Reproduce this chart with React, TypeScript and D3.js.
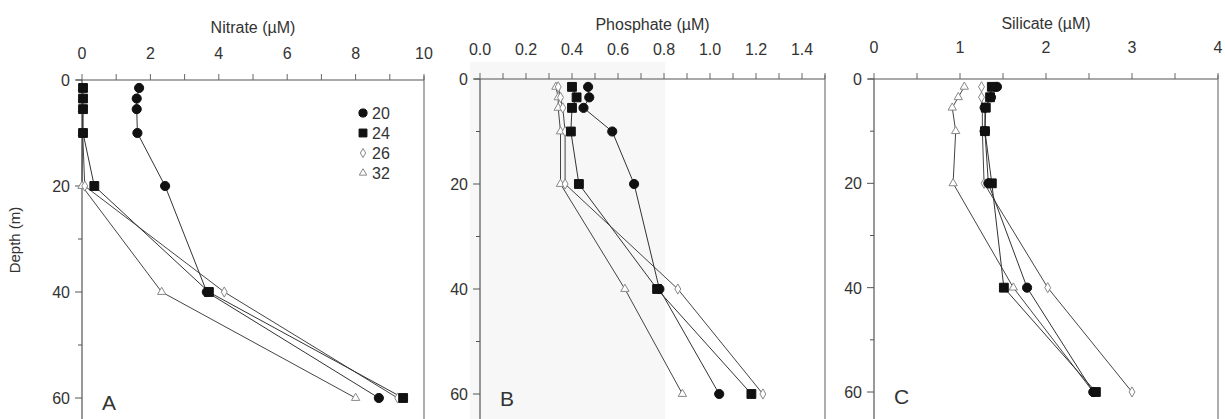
import React from "react";
import * as d3 from "d3";

const depths = [1.5, 3.5, 5.5, 10, 20, 40, 60];
const seriesNames = ["20", "24", "26", "32"];

const nitrate20 = [1.67, 1.6, 1.6, 1.62, 2.43, 3.65, 8.68];
const nitrate24 = [0.03, 0.03, 0.03, 0.03, 0.36, 3.71, 9.39];
const nitrate26 = [0.02, 0.02, 0.02, 0.02, 0.08, 4.16, 9.23];
const nitrate32 = [0.01, 0.01, 0.01, 0.01, 0.0, 2.33, 8.0];

const phosphate20 = [0.47, 0.475, 0.45, 0.575, 0.67, 0.78, 1.04];
const phosphate24 = [0.4, 0.42, 0.4, 0.395, 0.43, 0.77, 1.18];
const phosphate26 = [0.34, 0.35, 0.36, 0.37, 0.37, 0.86, 1.23];
const phosphate32 = [0.33, 0.34, 0.34, 0.35, 0.35, 0.63, 0.88];

const silicate20 = [1.43, 1.36, 1.29, 1.29, 1.33, 1.78, 2.55];
const silicate24 = [1.37, 1.35, 1.3, 1.29, 1.37, 1.51, 2.58];
const silicate26 = [1.25, 1.25, 1.26, 1.26, 1.28, 2.02, 3.0];
const silicate32 = [1.05, 0.98, 0.91, 0.95, 0.92, 1.62, 2.55];

const nitrateTicks = [0, 2, 4, 6, 8, 10];
const nitrateTickLabels = ["0", "2", "4", "6", "8", "10"];
const phosphateTicks = [0, 0.2, 0.4, 0.6, 0.8, 1.0, 1.2, 1.4];
const phosphateTickLabels = ["0.0", "0.2", "0.4", "0.6", "0.8", "1.0", "1.2", "1.4"];
const silicateTicks = [0, 1, 2, 3, 4];
const silicateTickLabels = ["0", "1", "2", "3", "4"];
const depthTicks = [0, 20, 40, 60];
const depthMinor = [10, 30, 50];

const FONT = "'Liberation Sans', Arial, sans-serif";
const TXT = "#333";

const markerStyle: Record<string, { type: any; size: number; fill: string; stroke: string }> = {
  "20": { type: d3.symbolCircle, size: 66, fill: "#111", stroke: "#111" },
  "24": { type: d3.symbolSquare, size: 78, fill: "#111", stroke: "#111" },
  "26": { type: d3.symbolDiamond, size: 30, fill: "#fff", stroke: "#888" },
  "32": { type: d3.symbolTriangle, size: 30, fill: "#fff", stroke: "#888" },
};

type PanelCfg = {
  title: string;
  letter: string;
  domain: [number, number];
  xr: [number, number];
  y0: number;
  y60: number;
  ticks: number[];
  tickLabels: string[];
  minorStep: number;
  series: number[][];
  titleY: number;
  tickY: number;
  legend?: boolean;
};

const panels: PanelCfg[] = [
  {
    title: "Nitrate (\u00b5M)", letter: "A", domain: [0, 10], xr: [82, 424], y0: 80, y60: 398,
    ticks: nitrateTicks, tickLabels: nitrateTickLabels, minorStep: 1,
    series: [nitrate20, nitrate24, nitrate26, nitrate32], titleY: 33, tickY: 59, legend: true,
  },
  {
    title: "Phosphate (\u00b5M)", letter: "B", domain: [0, 1.5], xr: [480, 825], y0: 79, y60: 394,
    ticks: phosphateTicks, tickLabels: phosphateTickLabels, minorStep: 0.1,
    series: [phosphate20, phosphate24, phosphate26, phosphate32], titleY: 30, tickY: 55,
  },
  {
    title: "Silicate (\u00b5M)", letter: "C", domain: [0, 4], xr: [874, 1218], y0: 79, y60: 392,
    ticks: silicateTicks, tickLabels: silicateTickLabels, minorStep: 0.5,
    series: [silicate20, silicate24, silicate26, silicate32], titleY: 29, tickY: 53,
  },
];

function Panel({ cfg }: { cfg: PanelCfg }) {
  const x = d3.scaleLinear().domain(cfg.domain).range(cfg.xr);
  const y = d3.scaleLinear().domain([0, 60]).range([cfg.y0, cfg.y60]);
  const line = d3.line<[number, number]>().x((d) => x(d[0])).y((d) => y(d[1]));
  const minor = d3.range(cfg.domain[0], cfg.domain[1] + 1e-9, cfg.minorStep);
  const order = [3, 2, 0, 1];
  return (
    <g>
      <line x1={cfg.xr[0] - 6} x2={cfg.xr[1]} y1={cfg.y0} y2={cfg.y0} stroke="#555" strokeWidth={1.2} />
      <line x1={cfg.xr[0]} x2={cfg.xr[0]} y1={cfg.y0} y2={419} stroke="#555" strokeWidth={1.2} />
      <line x1={cfg.xr[1]} x2={cfg.xr[1]} y1={cfg.y0 - 4} y2={419} stroke="#777" strokeWidth={1.2} />
      {minor.map((v, i) => (
        <line key={"mx" + i} x1={x(v)} x2={x(v)} y1={cfg.y0} y2={cfg.y0 - 6} stroke="#666" strokeWidth={1} />
      ))}
      {cfg.ticks.map((v, i) => (
        <text key={"tx" + i} x={x(v)} y={cfg.tickY} textAnchor="middle" fontSize={16} fontFamily={FONT} fill={TXT}>
          {cfg.tickLabels[i]}
        </text>
      ))}
      <text x={(cfg.xr[0] + cfg.xr[1]) / 2} y={cfg.titleY} textAnchor="middle" fontSize={16} fontFamily={FONT} fill={TXT}>
        {cfg.title}
      </text>
      {depthTicks.map((v) => (
        <g key={"dy" + v}>
          <line x1={cfg.xr[0] - 7} x2={cfg.xr[0]} y1={y(v)} y2={y(v)} stroke="#555" strokeWidth={1} />
          <text x={cfg.xr[0] - 12} y={y(v) + 6} textAnchor="end" fontSize={16} fontFamily={FONT} fill={TXT}>
            {v}
          </text>
        </g>
      ))}
      {depthMinor.map((v) => (
        <line key={"dm" + v} x1={cfg.xr[0] - 4} x2={cfg.xr[0]} y1={y(v)} y2={y(v)} stroke="#555" strokeWidth={1} />
      ))}
      {order.map((si) => (
        <path
          key={"l" + si}
          d={line(depths.map((dd, k) => [cfg.series[si][k], dd] as [number, number])) || ""}
          fill="none"
          stroke={si < 2 ? "#333" : "#444"}
          strokeWidth={1}
        />
      ))}
      {order.map((si) => {
        const st = markerStyle[seriesNames[si]];
        const p = d3.symbol().type(st.type).size(st.size)() || "";
        return depths.map((dd, k) => (
          <path
            key={"m" + si + "-" + k}
            d={p}
            transform={`translate(${x(cfg.series[si][k])},${y(dd)})`}
            fill={st.fill}
            stroke={st.stroke}
            strokeWidth={1}
          />
        ));
      })}
      <text x={cfg.xr[0] + 20} y={cfg.y60 + 12} fontSize={21} fontFamily={FONT} fill={TXT}>
        {cfg.letter}
      </text>
      {cfg.legend &&
        seriesNames.map((nm, i) => {
          const st = markerStyle[nm];
          const p = d3.symbol().type(st.type).size(st.size * 0.8)() || "";
          const ly = 113 + i * 20;
          return (
            <g key={"lg" + nm}>
              <path d={p} transform={`translate(363,${ly})`} fill={st.fill} stroke={st.stroke} strokeWidth={1} />
              <text x={372} y={ly + 6} fontSize={16} fontFamily={FONT} fill={TXT}>
                {nm}
              </text>
            </g>
          );
        })}
    </g>
  );
}

export default function App() {
  return (
    <div style={{ position: "absolute", left: 0, top: 0 }}>
      <svg width={1225} height={419} style={{ display: "block", background: "#fff" }}>
        <rect x={470} y={62} width={195} height={357} fill="#f7f7f7" />
        {panels.map((p) => (
          <Panel key={p.letter} cfg={p} />
        ))}
        <text
          transform="translate(20,240) rotate(-90)"
          textAnchor="middle"
          fontSize={15}
          fontFamily={FONT}
          fill={TXT}
        >
          Depth (m)
        </text>
      </svg>
    </div>
  );
}
